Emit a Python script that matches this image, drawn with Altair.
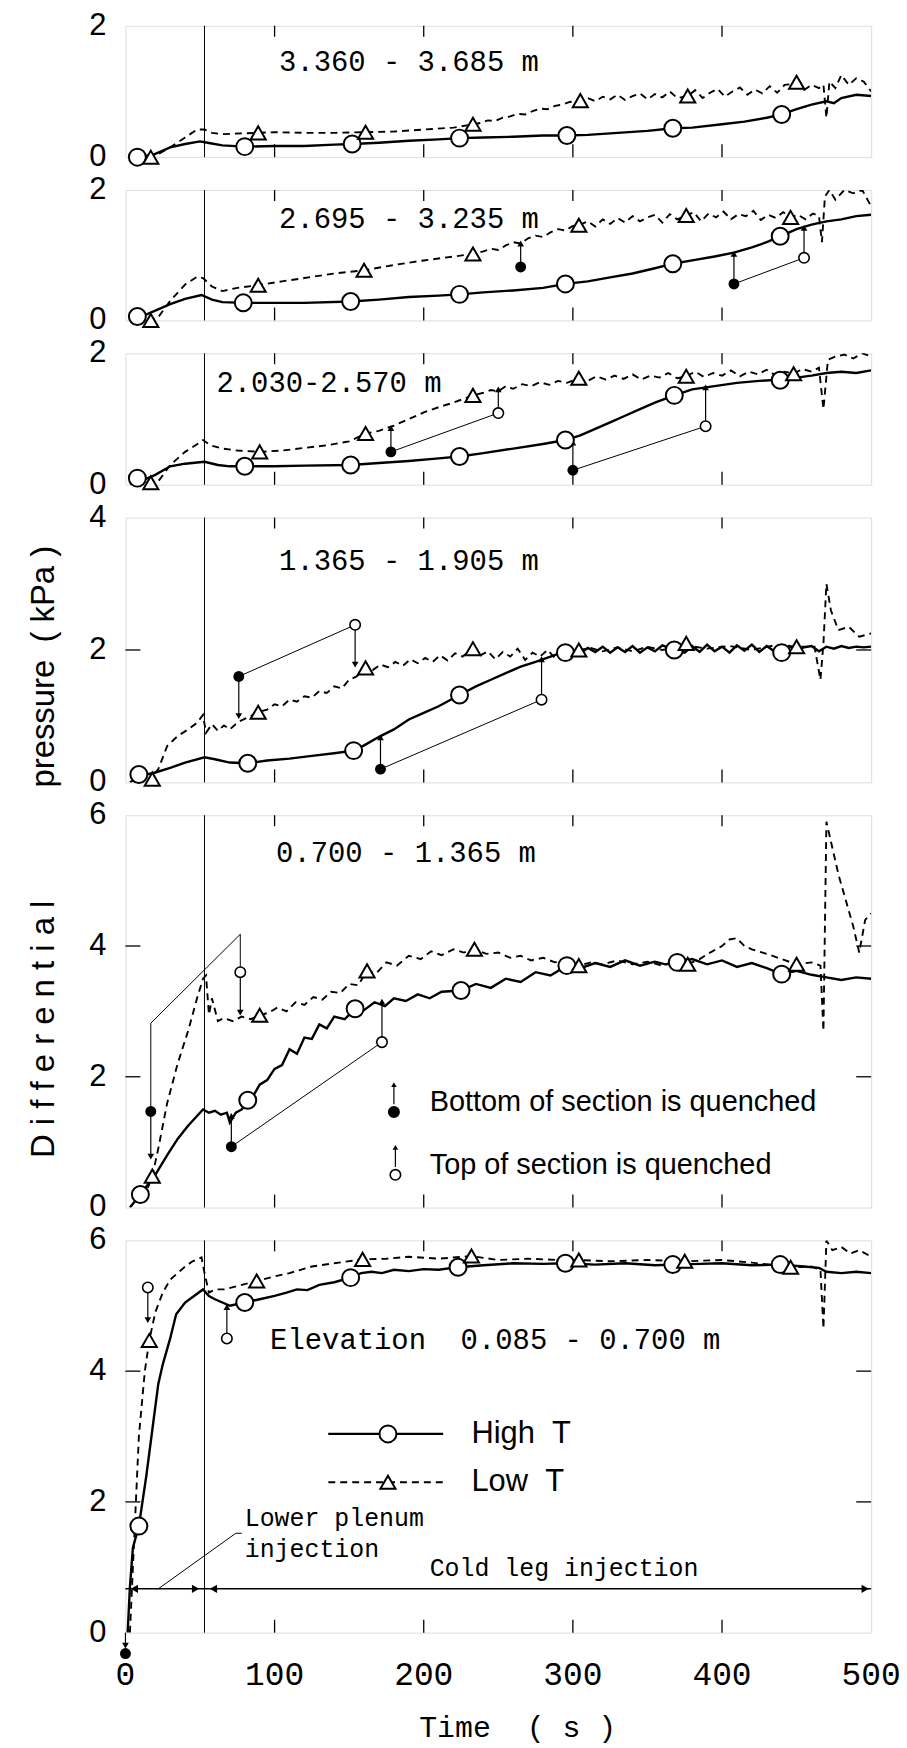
import altair as alt
import pandas as pd

MONO = "Liberation Mono"
SANS = "Liberation Sans"
NB = "\u00a0"
W = 749
HEIGHTS = [132, 131, 132, 266, 394, 394]
YMAX = [2, 2, 2, 4, 6, 6]
Y_LABELS = [[0, 2], [0, 2], [0, 2], [0, 2, 4], [0, 2, 4, 6], [0, 2, 4, 6]]
INNER_TICKS = [[], [], [], [2], [2, 4], [2, 4]]
X_TICKS = [100, 200, 300, 400]
X_LABELS = [0, 100, 200, 300, 400, 500]
T_INJ = 53

# ---------------- data ----------------
# Panel 1: 3.360 - 3.685 m
p1_hi_t = [3, 10, 20, 30, 40, 50, 55, 65, 80, 100, 120, 140, 152, 170, 190, 210, 224, 240, 260, 280, 296, 310, 330, 350, 367, 380, 400, 415, 430, 440, 450, 460, 470, 475, 480, 490, 500]
p1_hi_v = [0, 0.0, 0.05, 0.15, 0.2, 0.24, 0.22, 0.18, 0.16, 0.17, 0.17, 0.19, 0.2, 0.22, 0.25, 0.27, 0.29, 0.3, 0.31, 0.33, 0.33, 0.34, 0.37, 0.4, 0.44, 0.45, 0.5, 0.54, 0.6, 0.65, 0.73, 0.8, 0.85, 0.82, 0.9, 0.95, 0.93]
p1_lo_t = [15, 20, 30, 40, 48, 53, 58, 65, 75, 89, 100, 120, 140, 161, 180, 200, 220, 233, 238, 243, 248, 253, 258, 263, 268, 273, 278, 283, 288, 293, 298, 305, 310, 315, 320, 325, 330, 335, 340, 345, 350, 355, 360, 365, 370, 377, 382, 387, 392, 397, 402, 407, 412, 417, 422, 427, 432, 437, 442, 450, 455, 460, 465, 468, 470, 472, 476, 480, 485, 490, 495, 500]
p1_lo_v = [0, 0.02, 0.15, 0.3, 0.42, 0.42, 0.37, 0.35, 0.36, 0.37, 0.38, 0.37, 0.37, 0.38, 0.39, 0.42, 0.45, 0.5, 0.52, 0.56, 0.55, 0.6, 0.62, 0.66, 0.65, 0.7, 0.74, 0.73, 0.78, 0.8, 0.84, 0.86, 0.9, 0.85, 0.92, 0.88, 0.95, 0.87, 0.93, 0.97, 0.88, 0.96, 0.91, 1.0, 0.9, 0.93, 1.02, 0.9, 0.98, 1.04, 0.92, 1.0, 1.06, 0.95, 1.03, 0.97, 1.08, 0.98, 1.1, 1.12, 1.02, 1.1, 1.05, 1.1, 0.6, 1.15, 1.05, 1.25, 1.1, 1.2, 1.15, 1.0]
p1_hm_t = [8, 80, 152, 224, 296, 367, 440]
p1_hm_v = [0, 0.16, 0.2, 0.29, 0.33, 0.44, 0.65]
p1_lm_t = [17, 89, 161, 233, 305, 377, 450]
p1_lm_v = [0, 0.37, 0.38, 0.5, 0.86, 0.93, 1.14]

# Panel 2: 2.695 - 3.235 m
p2_hi_t = [3, 10, 20, 30, 40, 51, 58, 65, 79, 100, 120, 151, 170, 190, 210, 224, 240, 260, 280, 295, 310, 325, 340, 355, 367, 380, 395, 408, 420, 430, 439, 450, 460, 470, 480, 490, 500]
p2_hi_v = [0, 0.05, 0.15, 0.25, 0.33, 0.39, 0.32, 0.28, 0.27, 0.27, 0.27, 0.29, 0.32, 0.36, 0.38, 0.4, 0.43, 0.46, 0.5, 0.56, 0.6, 0.66, 0.72, 0.8, 0.87, 0.92, 0.98, 1.04, 1.12, 1.2, 1.29, 1.4, 1.47, 1.52, 1.55, 1.6, 1.62]
p2_lo_t = [15, 22, 30, 40, 48, 52, 58, 65, 75, 89, 105, 120, 140, 160, 180, 200, 220, 233, 240, 245, 250, 255, 260, 265, 270, 275, 280, 285, 290, 295, 300, 304, 310, 315, 320, 325, 330, 335, 340, 345, 350, 355, 360, 365, 370, 376, 381, 386, 391, 396, 401, 406, 411, 416, 421, 426, 431, 436, 441, 446, 451, 456, 461, 465, 467, 469, 472, 476, 482, 488, 494, 500]
p2_lo_v = [0, 0.05, 0.3, 0.55, 0.67, 0.65, 0.52, 0.45, 0.5, 0.54, 0.6, 0.65, 0.72, 0.77, 0.85, 0.92, 0.98, 1.02, 1.06, 1.1, 1.08, 1.15, 1.2, 1.18, 1.26, 1.3, 1.28, 1.35, 1.4, 1.38, 1.45, 1.46, 1.52, 1.44, 1.55, 1.48, 1.57, 1.5, 1.6, 1.52, 1.58, 1.62, 1.5, 1.63, 1.55, 1.61, 1.66, 1.52, 1.64, 1.58, 1.67, 1.55, 1.63, 1.6, 1.68, 1.54, 1.62, 1.57, 1.66, 1.58, 1.62, 1.55, 1.64, 1.6, 1.2, 1.9, 2.0, 1.85, 2.0, 1.95, 2.0, 1.75]
p2_hm_t = [8, 79, 151, 224, 295, 367, 439]
p2_hm_v = [0.06, 0.27, 0.29, 0.4, 0.56, 0.87, 1.29]
p2_lm_t = [17, 89, 160, 233, 304, 376, 446]
p2_lm_v = [0, 0.54, 0.77, 1.02, 1.46, 1.61, 1.58]
p2_qf_t = [265, 408]
p2_qf_v = [0.82, 0.56]
p2_qo_t = [455]
p2_qo_v = [0.96]
p2_ar_t = [265, 408, 455]
p2_ar_from = [0.82, 0.56, 0.96]
p2_ar_to = [1.18, 1.02, 1.42]
p2_ln_t = [408, 455]
p2_ln_v = [0.56, 0.96]
p2_ln_id = [0, 0]

# Panel 3: 2.030 - 2.570 m
p3_hi_t = [3, 10, 20, 30, 40, 53, 62, 70, 80, 100, 120, 151, 170, 190, 210, 224, 240, 260, 280, 295, 305, 315, 325, 335, 345, 355, 368, 380, 395, 410, 425, 439, 450, 460, 470, 480, 490, 500]
p3_hi_v = [0, 0.05, 0.15, 0.28, 0.32, 0.35, 0.3, 0.28, 0.28, 0.28, 0.29, 0.3, 0.33, 0.36, 0.4, 0.43, 0.48, 0.55, 0.62, 0.68, 0.75, 0.85, 0.95, 1.05, 1.15, 1.25, 1.36, 1.45, 1.5, 1.55, 1.58, 1.6, 1.63, 1.66, 1.7, 1.72, 1.7, 1.74]
p3_lo_t = [15, 22, 30, 40, 47, 52, 57, 65, 75, 90, 105, 120, 135, 150, 161, 170, 180, 190, 200, 210, 220, 233, 240, 245, 250, 255, 260, 266, 272, 278, 284, 290, 296, 304, 310, 316, 322, 328, 334, 340, 346, 352, 358, 364, 370, 376, 382, 388, 394, 400, 406, 412, 418, 424, 430, 436, 442, 448, 454, 460, 465, 468, 471, 476, 482, 488, 494, 500]
p3_lo_v = [0, 0.05, 0.3, 0.5, 0.6, 0.68, 0.6, 0.55, 0.52, 0.5, 0.52, 0.56, 0.6, 0.66, 0.78, 0.82, 0.9, 1.0, 1.1, 1.18, 1.25, 1.36, 1.4, 1.44, 1.42, 1.5, 1.46, 1.53, 1.5, 1.56, 1.52, 1.58, 1.55, 1.62, 1.58, 1.65, 1.6, 1.66, 1.61, 1.68, 1.6, 1.66, 1.63, 1.7, 1.62, 1.65, 1.72, 1.64, 1.7, 1.66, 1.74, 1.65, 1.72, 1.68, 1.75, 1.66, 1.72, 1.69, 1.76, 1.72, 1.78, 1.15, 1.9, 1.95, 1.98, 1.92, 2.0, 1.95]
p3_hm_t = [8, 80, 151, 224, 295, 368, 439]
p3_hm_v = [0.1, 0.28, 0.3, 0.43, 0.68, 1.36, 1.59]
p3_lm_t = [17, 90, 161, 233, 304, 376, 448]
p3_lm_v = [0.03, 0.5, 0.78, 1.36, 1.62, 1.65, 1.69]
p3_qf_t = [178, 300]
p3_qf_v = [0.5, 0.22]
p3_qo_t = [250, 389]
p3_qo_v = [1.09, 0.89]
p3_ar_t = [178, 250, 300, 389]
p3_ar_from = [0.5, 1.09, 0.22, 0.89]
p3_ar_to = [0.86, 1.45, 0.64, 1.48]
p3_ln_t = [178, 250, 300, 389]
p3_ln_v = [0.5, 1.09, 0.22, 0.89]
p3_ln_id = [0, 0, 1, 1]

# Panel 4: 1.365 - 1.905 m
p4_hi_t = [3, 10, 20, 30, 40, 53, 60, 70, 82, 95, 110, 125, 140, 153, 160, 171, 180, 190, 200, 210, 224, 235, 245, 255, 265, 275, 285, 290, 295, 300, 305, 310, 315, 320, 325, 330, 335, 340, 345, 350, 355, 360, 368, 375, 380, 385, 390, 395, 400, 405, 410, 415, 420, 425, 430, 435, 440, 445, 450, 455, 460, 465, 470, 475, 480, 485, 490, 495, 500]
p4_hi_v = [0, 0.1, 0.15, 0.22, 0.3, 0.38, 0.35, 0.3, 0.29, 0.33, 0.36, 0.4, 0.44, 0.48, 0.56, 0.7, 0.8, 0.95, 1.05, 1.15, 1.32, 1.45, 1.55, 1.65, 1.75, 1.82, 1.9, 1.94, 1.96, 1.99, 1.95, 2.03, 1.97, 2.05, 1.96, 2.04, 1.97, 2.06, 1.96, 2.04, 1.98, 2.07, 2.0, 1.96, 2.06, 1.97, 2.08, 1.98, 2.05, 1.96, 2.07, 1.99, 2.08, 1.97, 2.06, 1.98, 1.96, 2.06, 2.0, 2.04, 2.06, 1.98, 2.05, 2.02, 2.06, 2.03, 2.05, 2.04, 2.05]
p4_lo_t = [15, 22, 28, 35, 42, 48, 52, 54, 58, 62, 66, 70, 76, 82, 89, 95, 100, 105, 110, 115, 120, 125, 130, 135, 140, 145, 150, 155, 161, 166, 171, 176, 181, 186, 191, 196, 201, 206, 211, 216, 221, 226, 233, 238, 243, 248, 253, 258, 263, 268, 273, 278, 283, 288, 293, 298, 304, 312, 320, 330, 340, 350, 360, 376, 390, 405, 420, 435, 450, 462, 466, 468, 470, 473, 478, 485, 492, 500]
p4_lo_v = [0, 0.2, 0.55, 0.7, 0.8, 0.9, 1.02, 0.75, 0.88, 0.78, 0.86, 0.8, 0.92, 0.98, 1.06, 1.1, 1.18, 1.15, 1.25, 1.22, 1.3, 1.28, 1.38, 1.35, 1.45, 1.42, 1.55, 1.6, 1.73, 1.7, 1.78, 1.74, 1.82, 1.76, 1.86, 1.8, 1.88, 1.82, 1.92, 1.84, 1.95, 1.9, 2.02, 1.92, 1.98, 1.86, 1.97, 1.9, 2.02, 1.85, 1.96, 1.9, 2.0, 1.88, 1.97, 1.92, 2.0, 2.03, 1.98, 2.04, 1.98, 2.05, 2.0, 2.07, 2.02, 2.06, 2.0, 2.07, 2.05, 2.05, 1.55, 2.1, 3.0, 2.6, 2.3, 2.35, 2.2, 2.25]
p4_hm_t = [9, 82, 153, 224, 295, 368, 440]
p4_hm_v = [0.12, 0.29, 0.48, 1.32, 1.96, 2.0, 1.96]
p4_lm_t = [18, 89, 161, 233, 304, 376, 450]
p4_lm_v = [0.05, 1.06, 1.73, 2.02, 2.0, 2.1, 2.05]
p4_qf_t = [76, 171]
p4_qf_v = [1.6, 0.2]
p4_qo_t = [154, 279]
p4_qo_v = [2.38, 1.25]
p4_ar_t = [76, 154, 171, 279]
p4_ar_from = [1.6, 2.38, 0.2, 1.25]
p4_ar_to = [1.0, 1.78, 0.68, 1.86]
p4_ln_t = [76, 154, 171, 279]
p4_ln_v = [1.6, 2.38, 0.2, 1.25]
p4_ln_id = [0, 0, 1, 1]

# Panel 5: 0.700 - 1.365 m
p5_hi_t = [3, 10, 15, 20, 28, 35, 42, 48, 52, 56, 60, 64, 68, 70, 74, 78, 82, 86, 90, 95, 100, 105, 110, 115, 120, 125, 130, 135, 140, 147, 154, 160, 167, 174, 180, 188, 196, 204, 212, 225, 235, 245, 255, 265, 275, 285, 296, 305, 315, 325, 335, 345, 355, 362, 370, 380, 390, 400, 410, 420, 430, 440, 450, 460, 470, 480, 490, 500]
p5_hi_v = [0, 0.2, 0.35, 0.5, 0.8, 1.05, 1.25, 1.4, 1.5, 1.45, 1.48, 1.42, 1.45, 1.3, 1.45, 1.5, 1.64, 1.72, 1.88, 1.95, 2.12, 2.18, 2.42, 2.35, 2.6, 2.58, 2.8, 2.74, 2.92, 2.88, 3.04, 3.02, 3.14, 3.08, 3.2, 3.16, 3.26, 3.2, 3.3, 3.32, 3.42, 3.36, 3.5, 3.45, 3.6, 3.55, 3.7, 3.66, 3.74, 3.68, 3.78, 3.7, 3.76, 3.72, 3.75, 3.8, 3.72, 3.78, 3.68, 3.74, 3.66, 3.57, 3.62, 3.56, 3.52, 3.48, 3.52, 3.5]
p5_lo_t = [15, 18, 22, 28, 35, 42, 48, 52, 54, 56, 58, 62, 66, 72, 78, 84, 90, 96, 102, 108, 114, 120, 126, 132, 138, 144, 150, 156, 162, 168, 175, 182, 190, 198, 205, 212, 220, 227, 234, 242, 250, 258, 265, 272, 280, 288, 295, 304, 312, 320, 330, 340, 350, 360, 370, 377, 385, 392, 400, 405, 410, 415, 420, 430, 440, 450, 460, 466, 468, 470, 473, 478, 483, 488, 492, 496, 500]
p5_lo_v = [0.3, 0.48, 0.9, 1.6, 2.2, 2.7, 3.2, 3.5, 3.55, 2.95, 3.2, 2.85, 2.9, 2.85, 2.92, 2.88, 2.94, 2.98, 3.06, 3.0, 3.14, 3.1, 3.22, 3.18, 3.3, 3.28, 3.42, 3.4, 3.62, 3.58, 3.75, 3.7, 3.85, 3.8, 3.92, 3.86, 3.95, 3.9, 3.95, 3.88, 3.9, 3.82, 3.85, 3.78, 3.82, 3.75, 3.78, 3.7, 3.75, 3.72, 3.78, 3.72, 3.76, 3.7, 3.78, 3.72, 3.8, 3.9, 4.0, 4.1, 4.12, 4.0, 3.95, 3.88, 3.8, 3.72, 3.75, 3.7, 2.7, 5.9, 5.6, 5.1, 4.7, 4.3, 3.9, 4.4, 4.5]
p5_hm_t = [10, 82, 154, 225, 296, 370, 440]
p5_hm_v = [0.2, 1.64, 3.04, 3.32, 3.7, 3.75, 3.57]
p5_lm_t = [18, 90, 162, 234, 304, 377, 450]
p5_lm_v = [0.48, 2.94, 3.62, 3.95, 3.7, 3.72, 3.72]
p5_qf_t = [17, 71]
p5_qf_v = [1.47, 0.93]
p5_qo_t = [77, 172]
p5_qo_v = [3.6, 2.53]
p5_ar_t = [17, 77, 71, 172]
p5_ar_from = [1.47, 3.6, 0.93, 2.53]
p5_ar_to = [0.78, 2.98, 1.4, 3.15]
p5_ln_t = [17, 17, 77, 77, 71, 172]
p5_ln_v = [1.47, 2.82, 4.18, 3.6, 0.93, 2.53]
p5_ln_id = [0, 0, 0, 0, 1, 1]

# Panel 6: 0.085 - 0.700 m
p6_hi_t = [1.5, 3, 5, 9, 14, 18, 22, 25, 30, 34, 40, 46, 52, 56, 60, 65, 70, 80, 90, 100, 108, 115, 122, 130, 140, 151, 158, 165, 172, 180, 190, 200, 210, 223, 240, 260, 280, 295, 315, 335, 355, 367, 385, 400, 420, 439, 455, 465, 470, 480, 490, 500]
p6_hi_v = [0, 0.7, 1.3, 1.63, 2.4, 3.1, 3.8, 4.1, 4.5, 4.87, 5.05, 5.15, 5.25, 5.15, 5.1, 5.05, 5.0, 5.05, 5.1, 5.15, 5.2, 5.25, 5.24, 5.32, 5.36, 5.43, 5.5, 5.52, 5.5, 5.55, 5.53, 5.56, 5.55, 5.59, 5.62, 5.65, 5.64, 5.65, 5.63, 5.65, 5.62, 5.63, 5.64, 5.65, 5.62, 5.63, 5.6, 5.58, 5.52, 5.5, 5.52, 5.5]
p6_lo_t = [3, 6, 9, 13, 16, 20, 25, 30, 35, 40, 45, 51, 53, 56, 60, 66, 75, 88, 100, 110, 125, 140, 159, 175, 190, 210, 232, 250, 270, 290, 304, 325, 350, 375, 400, 420, 446, 460, 466, 468, 470, 474, 480, 486, 492, 500]
p6_lo_v = [0, 1.5, 3.0, 4.0, 4.47, 4.9, 5.2, 5.4, 5.5, 5.6, 5.68, 5.74, 5.5, 5.2, 5.25, 5.25, 5.3, 5.38, 5.45, 5.5, 5.6, 5.65, 5.71, 5.72, 5.75, 5.72, 5.76, 5.7, 5.72, 5.7, 5.7, 5.68, 5.7, 5.68, 5.7, 5.66, 5.59, 5.6, 5.55, 4.65, 6.0, 5.85, 5.9, 5.8, 5.85, 5.75]
p6_hm_t = [9, 80, 151, 223, 295, 367, 439]
p6_hm_v = [1.63, 5.05, 5.43, 5.59, 5.65, 5.63, 5.63]
p6_lm_t = [16, 88, 159, 232, 304, 375, 446]
p6_lm_v = [4.47, 5.38, 5.71, 5.76, 5.7, 5.68, 5.59]
p6_qf_t = [0]
p6_qf_v = [-0.32]
p6_qo_t = [15, 68]
p6_qo_v = [5.28, 4.5]
p6_ar_t = [15, 68, 0]
p6_ar_from = [5.28, 4.5, 0.0]
p6_ar_to = [4.78, 4.98, -0.2]

# injection periods (bottom panel)
inj_level = 0.67
inj_line_t = [0, 500]
inj_head_t = [6, 47, 59, 496]
inj_head_shape = ["triangle-left", "triangle-right", "triangle-left", "triangle-right"]
leader_t = [78, 74, 22]
leader_v = [1.52, 1.52, inj_level]

LABELS = ["3.360 - 3.685 m", "2.695 - 3.235 m", "2.030-2.570 m", "1.365 - 1.905 m", "0.700 - 1.365 m",
          "Elevation" + NB * 2 + "0.085 - 0.700 m"]
LABEL_POS = [(103, 1.44), (103, 1.56), (61, 1.55), (103, 3.35), (101, 5.42), (97, 4.47)]

# y-axis title, split in its three words (pixel centre offsets from top of panel 5)
YTITLE_WORDS = [NB.join("Differential"), "pressure", "(" + NB + "kPa" + NB + ")"]
YTITLE_Y = [215, -92, -222]


def mk(t, v, **extra):
    d = pd.DataFrame({"t": t, "v": v})
    for k, val in extra.items():
        d[k] = val
    return d


def panel(i, hi, lo, hm, lm, q=None, bottom=False):
    h = HEIGHTS[i]
    ymax = YMAX[i]
    xs = alt.Scale(domain=[0, 500], nice=False, zero=False)
    ys = alt.Scale(domain=[0, ymax], nice=False, zero=False)
    X = alt.X("t:Q", scale=xs, axis=None)
    Y = alt.Y("v:Q", scale=ys, axis=None)
    layers = []
    layers.append(alt.Chart(pd.DataFrame({"t": [T_INJ]})).mark_rule(color="black", strokeWidth=1)
                  .encode(x=X))
    xt = pd.DataFrame({"t": X_TICKS})
    layers.append(alt.Chart(xt).mark_rule(color="black", strokeWidth=1.3)
                  .encode(x=X, y=alt.value(h), y2=alt.value(h - 13)))
    layers.append(alt.Chart(xt).mark_rule(color="black", strokeWidth=1.3)
                  .encode(x=X, y=alt.value(0), y2=alt.value(11)))
    if INNER_TICKS[i]:
        yt = pd.DataFrame({"v": INNER_TICKS[i]})
        layers.append(alt.Chart(yt).mark_rule(color="black", strokeWidth=1.3)
                      .encode(y=Y, x=alt.value(0), x2=alt.value(15)))
        layers.append(alt.Chart(yt).mark_rule(color="black", strokeWidth=1.3)
                      .encode(y=Y, x=alt.value(W - 15), x2=alt.value(W)))
    layers.append(alt.Chart(pd.DataFrame({"v": Y_LABELS[i], "s": [str(v) for v in Y_LABELS[i]]}))
                  .mark_text(font=SANS, fontSize=31, align="right", baseline="middle", color="black")
                  .encode(y=Y, x=alt.value(-19), text="s:N"))
    if bottom:
        layers.append(alt.Chart(pd.DataFrame({"t": X_LABELS, "s": [str(v) for v in X_LABELS]}))
                      .mark_text(font=MONO, fontSize=33, align="center", baseline="middle", color="black")
                      .encode(x=X, y=alt.value(h + 43), text="s:N"))
    layers.append(alt.Chart(mk(*hi)).mark_line(color="black", strokeWidth=2.4, clip=True)
                  .encode(x=X, y=Y, order="t:Q"))
    layers.append(alt.Chart(mk(*lo)).mark_line(color="black", strokeWidth=1.9, strokeDash=[7, 5], clip=True)
                  .encode(x=X, y=Y, order="t:Q"))
    if q is not None:
        qf, qo, ar, ln = q
        if ln is not None:
            layers.append(alt.Chart(mk(ln[0], ln[1], id=ln[2], o=list(range(len(ln[0])))))
                          .mark_line(color="black", strokeWidth=1)
                          .encode(x=X, y=Y, detail="id:N", order="o:Q"))
        ad = pd.DataFrame({"t": ar[0], "v": ar[1], "v2": ar[2]})
        ad["shape"] = ["triangle-up" if b > a else "triangle-down" for a, b in zip(ar[1], ar[2])]
        layers.append(alt.Chart(ad).mark_rule(color="black", strokeWidth=1.2)
                      .encode(x=X, y=Y, y2="v2:Q"))
        layers.append(alt.Chart(ad).mark_point(filled=True, color="black", size=45, opacity=1)
                      .encode(x=X, y=alt.Y("v2:Q", scale=ys, axis=None),
                              shape=alt.Shape("shape:N", scale=None, legend=None)))
        if qf is not None:
            layers.append(alt.Chart(mk(*qf)).mark_point(shape="circle", filled=True, color="black", size=120, opacity=1)
                          .encode(x=X, y=Y))
        if qo is not None:
            layers.append(alt.Chart(mk(*qo)).mark_point(shape="circle", filled=True, fill="white", stroke="black",
                                                          strokeWidth=1.6, size=110, opacity=1)
                          .encode(x=X, y=Y))
    layers.append(alt.Chart(mk(*hm)).mark_point(shape="circle", filled=True, fill="white", stroke="black",
                                                 strokeWidth=2, size=290, opacity=1)
                  .encode(x=X, y=Y))
    layers.append(alt.Chart(mk(*lm)).mark_point(shape="triangle-up", filled=True, fill="white", stroke="black",
                                                 strokeWidth=2, size=230, opacity=1)
                  .encode(x=X, y=Y))
    lt, lv = LABEL_POS[i]
    layers.append(alt.Chart(pd.DataFrame({"t": [lt], "v": [lv], "s": [LABELS[i]]}))
                  .mark_text(font=MONO, fontSize=29, align="left", baseline="middle", color="black")
                  .encode(x=X, y=Y, text="s:N"))
    return layers, ys, X, Y, h


charts = []

L, ys, X, Y, h = panel(0, (p1_hi_t, p1_hi_v), (p1_lo_t, p1_lo_v), (p1_hm_t, p1_hm_v), (p1_lm_t, p1_lm_v))
charts.append(alt.layer(*L).properties(width=W, height=h))

L, ys, X, Y, h = panel(1, (p2_hi_t, p2_hi_v), (p2_lo_t, p2_lo_v), (p2_hm_t, p2_hm_v), (p2_lm_t, p2_lm_v),
                       q=((p2_qf_t, p2_qf_v), (p2_qo_t, p2_qo_v), (p2_ar_t, p2_ar_from, p2_ar_to), (p2_ln_t, p2_ln_v, p2_ln_id)))
charts.append(alt.layer(*L).properties(width=W, height=h))

L, ys, X, Y, h = panel(2, (p3_hi_t, p3_hi_v), (p3_lo_t, p3_lo_v), (p3_hm_t, p3_hm_v), (p3_lm_t, p3_lm_v),
                       q=((p3_qf_t, p3_qf_v), (p3_qo_t, p3_qo_v), (p3_ar_t, p3_ar_from, p3_ar_to), (p3_ln_t, p3_ln_v, p3_ln_id)))
charts.append(alt.layer(*L).properties(width=W, height=h))

L, ys, X, Y, h = panel(3, (p4_hi_t, p4_hi_v), (p4_lo_t, p4_lo_v), (p4_hm_t, p4_hm_v), (p4_lm_t, p4_lm_v),
                       q=((p4_qf_t, p4_qf_v), (p4_qo_t, p4_qo_v), (p4_ar_t, p4_ar_from, p4_ar_to), (p4_ln_t, p4_ln_v, p4_ln_id)))
charts.append(alt.layer(*L).properties(width=W, height=h))

# Panel 5 (with quench key and y title)
L, ys, X, Y, h = panel(4, (p5_hi_t, p5_hi_v), (p5_lo_t, p5_lo_v), (p5_hm_t, p5_hm_v), (p5_lm_t, p5_lm_v),
                       q=((p5_qf_t, p5_qf_v), (p5_qo_t, p5_qo_v), (p5_ar_t, p5_ar_from, p5_ar_to), (p5_ln_t, p5_ln_v, p5_ln_id)))
key_t = [180, 181]
key_v = [1.46, 0.5]
key_fill = ["black", "white"]
key_text = ["Bottom of section is quenched", "Top of section is quenched"]
key_text_v = [1.61, 0.65]
kd = pd.DataFrame({"t": key_t, "v": key_v, "f": key_fill})
ka = pd.DataFrame({"t": key_t, "v": [v + 0.12 for v in key_v], "v2": [v + 0.42 for v in key_v]})
L.append(alt.Chart(ka).mark_rule(color="black", strokeWidth=1.2).encode(x=X, y=Y, y2="v2:Q"))
L.append(alt.Chart(ka).mark_point(shape="triangle-up", filled=True, color="black", size=30, opacity=1)
         .encode(x=X, y=alt.Y("v2:Q", scale=ys, axis=None)))
L.append(alt.Chart(kd).mark_point(shape="circle", filled=True, stroke="black", strokeWidth=1.6, size=110, opacity=1)
         .encode(x=X, y=Y, fill=alt.Fill("f:N", scale=None, legend=None)))
L.append(alt.Chart(pd.DataFrame({"t": [204, 204], "v": key_text_v, "s": key_text}))
         .mark_text(font=SANS, fontSize=29, align="left", baseline="middle", color="black")
         .encode(x=X, y=Y, text="s:N"))
for word, yy in zip(YTITLE_WORDS, YTITLE_Y):
    L.append(alt.Chart(pd.DataFrame({"s": [word]}))
             .mark_text(font=SANS, fontSize=33, angle=270, align="center", baseline="middle", color="black")
             .encode(x=alt.value(-82), y=alt.value(yy), text="s:N"))
charts.append(alt.layer(*L).properties(width=W, height=h))

# Panel 6 (bottom, with legend and injection annotations)
L, ys, X, Y, h = panel(5, (p6_hi_t, p6_hi_v), (p6_lo_t, p6_lo_v), (p6_hm_t, p6_hm_v), (p6_lm_t, p6_lm_v),
                       q=((p6_qf_t, p6_qf_v), (p6_qo_t, p6_qo_v), (p6_ar_t, p6_ar_from, p6_ar_to), None), bottom=True)
leg_t = [136, 213]
leg_mark_t = 176
leg_v = [3.04, 2.3]
leg_names = ["High" + NB * 2 + "T", "Low" + NB * 2 + "T"]
L.append(alt.Chart(mk(leg_t, [leg_v[0]] * 2)).mark_line(color="black", strokeWidth=2.4).encode(x=X, y=Y))
L.append(alt.Chart(mk(leg_t, [leg_v[1]] * 2)).mark_line(color="black", strokeWidth=1.9, strokeDash=[7, 5]).encode(x=X, y=Y))
L.append(alt.Chart(mk([leg_mark_t], [leg_v[0]])).mark_point(shape="circle", filled=True, fill="white", stroke="black",
                                                            strokeWidth=2, size=290, opacity=1).encode(x=X, y=Y))
L.append(alt.Chart(mk([leg_mark_t], [leg_v[1]])).mark_point(shape="triangle-up", filled=True, fill="white", stroke="black",
                                                            strokeWidth=2, size=230, opacity=1).encode(x=X, y=Y))
L.append(alt.Chart(pd.DataFrame({"t": [232, 232], "v": leg_v, "s": leg_names}))
         .mark_text(font=SANS, fontSize=31, align="left", baseline="middle", color="black")
         .encode(x=X, y=Y, text="s:N"))
L.append(alt.Chart(mk(inj_line_t, [inj_level] * 2)).mark_line(color="black", strokeWidth=1.5).encode(x=X, y=Y))
L.append(alt.Chart(pd.DataFrame({"t": inj_head_t, "v": [inj_level] * 4, "shape": inj_head_shape}))
         .mark_point(filled=True, color="black", size=70, opacity=1)
         .encode(x=X, y=Y, shape=alt.Shape("shape:N", scale=None, legend=None)))
L.append(alt.Chart(pd.DataFrame({"t": leader_t, "v": leader_v, "o": [0, 1, 2]}))
         .mark_line(color="black", strokeWidth=1).encode(x=X, y=Y, order="o:Q"))
L.append(alt.Chart(pd.DataFrame({"t": [80, 80, 204], "v": [1.75, 1.28, 0.99],
                                 "s": ["Lower plenum", "injection", "Cold leg injection"]}))
         .mark_text(font=MONO, fontSize=25, align="left", baseline="middle", color="black")
         .encode(x=X, y=Y, text="s:N"))
L.append(alt.Chart(pd.DataFrame({"s": ["Time" + NB * 2 + "(" + NB + "s" + NB + ")"]}))
         .mark_text(font=MONO, fontSize=30, align="center", baseline="middle", color="black")
         .encode(x=alt.value(394), y=alt.value(490), text="s:N"))
charts.append(alt.layer(*L).properties(width=W, height=h))

chart = (alt.vconcat(*charts, spacing=33, bounds="flush")
         .properties(padding={"left": 27, "top": 5, "right": 5, "bottom": 0})
         .configure_view(stroke="black", strokeWidth=2.6)
         .configure(background="white"))

chart.save("out.html", embed_options={"renderer": "svg", "actions": False})
